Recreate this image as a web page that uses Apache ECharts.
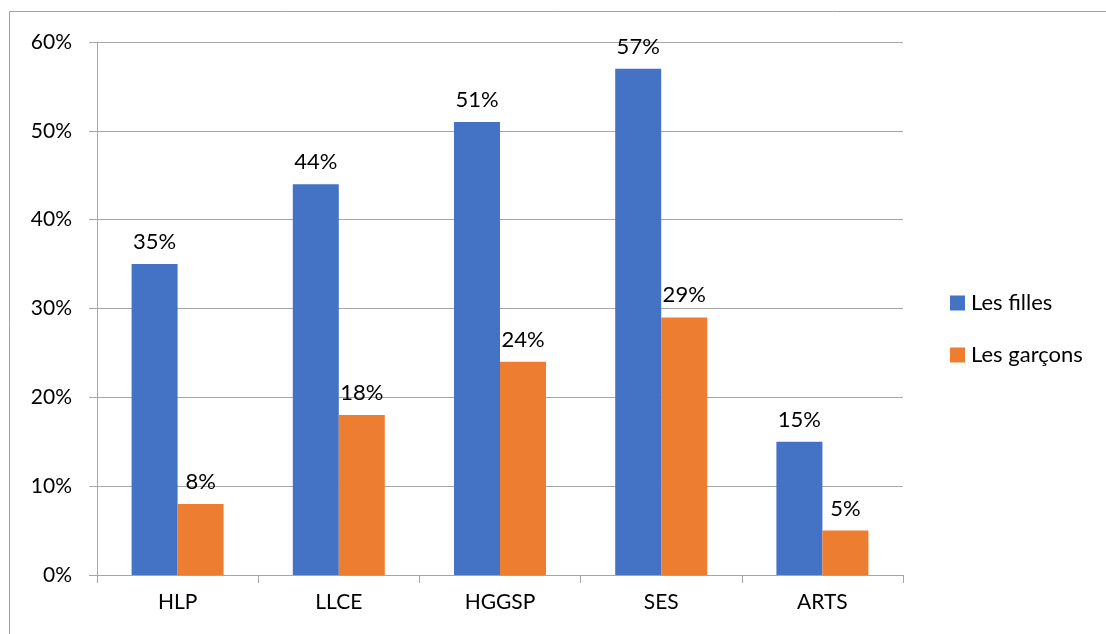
<!DOCTYPE html>
<html>
<head>
<meta charset="utf-8">
<script src="https://cdn.jsdelivr.net/npm/echarts@6/dist/echarts.min.js"></script>
<style>
    html, body { margin: 0; padding: 0; background: #fff; }
    #chart { width: 1106px; height: 634px; }
</style>
</head>
<body>
<div id="chart"></div>
<script>
// categories and values (percent)
const categories = ['HLP', 'LLCE', 'HGGSP', 'SES', 'ARTS'];
const filles = [35, 44, 51, 57, 15];
const garcons = [8, 18, 24, 29, 5];
const yTicks = [0, 10, 20, 30, 40, 50, 60];

const font = 'Lato, "Open Sans", sans-serif';
const axisGray = '#a6a6a6';

const chart = echarts.init(document.getElementById('chart'));

const labelStyle = {
    show: true,
    position: 'top',
    distance: 11,
    color: '#000',
    fontFamily: font,
    fontSize: 22,
    formatter: p => p.value + '%'
};

const option = {
    animation: false,
    backgroundColor: '#fff',
    graphic: [{
        type: 'rect',
        shape: { x: 9.5, y: 11.5, width: 1110, height: 640 },
        style: { fill: 'none', stroke: '#a0a0a0', lineWidth: 1 },
        silent: true
    }],
    grid: { left: 97, right: 203, top: 42, bottom: 59 },
    legend: {
        orient: 'vertical',
        left: 945,
        top: 287,
        itemWidth: 15,
        itemHeight: 15,
        itemGap: 30,
        icon: 'rect',
        textStyle: { fontFamily: font, fontSize: 22, color: '#000', padding: [0, 0, 0, 1] },
        data: ['Les filles', 'Les garçons']
    },
    xAxis: {
        type: 'category',
        data: categories,
        axisLine: { lineStyle: { color: axisGray, width: 1 } },
        axisTick: { show: true, length: 8, lineStyle: { color: axisGray } },
        axisLabel: { color: '#000', fontFamily: font, fontSize: 21, margin: 17 }
    },
    yAxis: {
        type: 'value',
        min: yTicks[0],
        max: yTicks[yTicks.length - 1],
        interval: 10,
        axisLine: { show: true, lineStyle: { color: axisGray, width: 1 } },
        axisTick: { show: true, length: 8, lineStyle: { color: axisGray } },
        splitLine: { lineStyle: { color: axisGray, width: 1 } },
        axisLabel: { color: '#000', fontFamily: font, fontSize: 21, margin: 25, formatter: '{value}%' }
    },
    series: [
        {
            name: 'Les filles',
            type: 'bar',
            data: filles,
            barWidth: 46,
            barGap: '0%',
            itemStyle: { color: '#4472C4' },
            label: labelStyle
        },
        {
            name: 'Les garçons',
            type: 'bar',
            data: garcons,
            barWidth: 46,
            barGap: '0%',
            itemStyle: { color: '#ED7D31' },
            label: labelStyle
        }
    ]
};

chart.setOption(option);
</script>
</body>
</html>
